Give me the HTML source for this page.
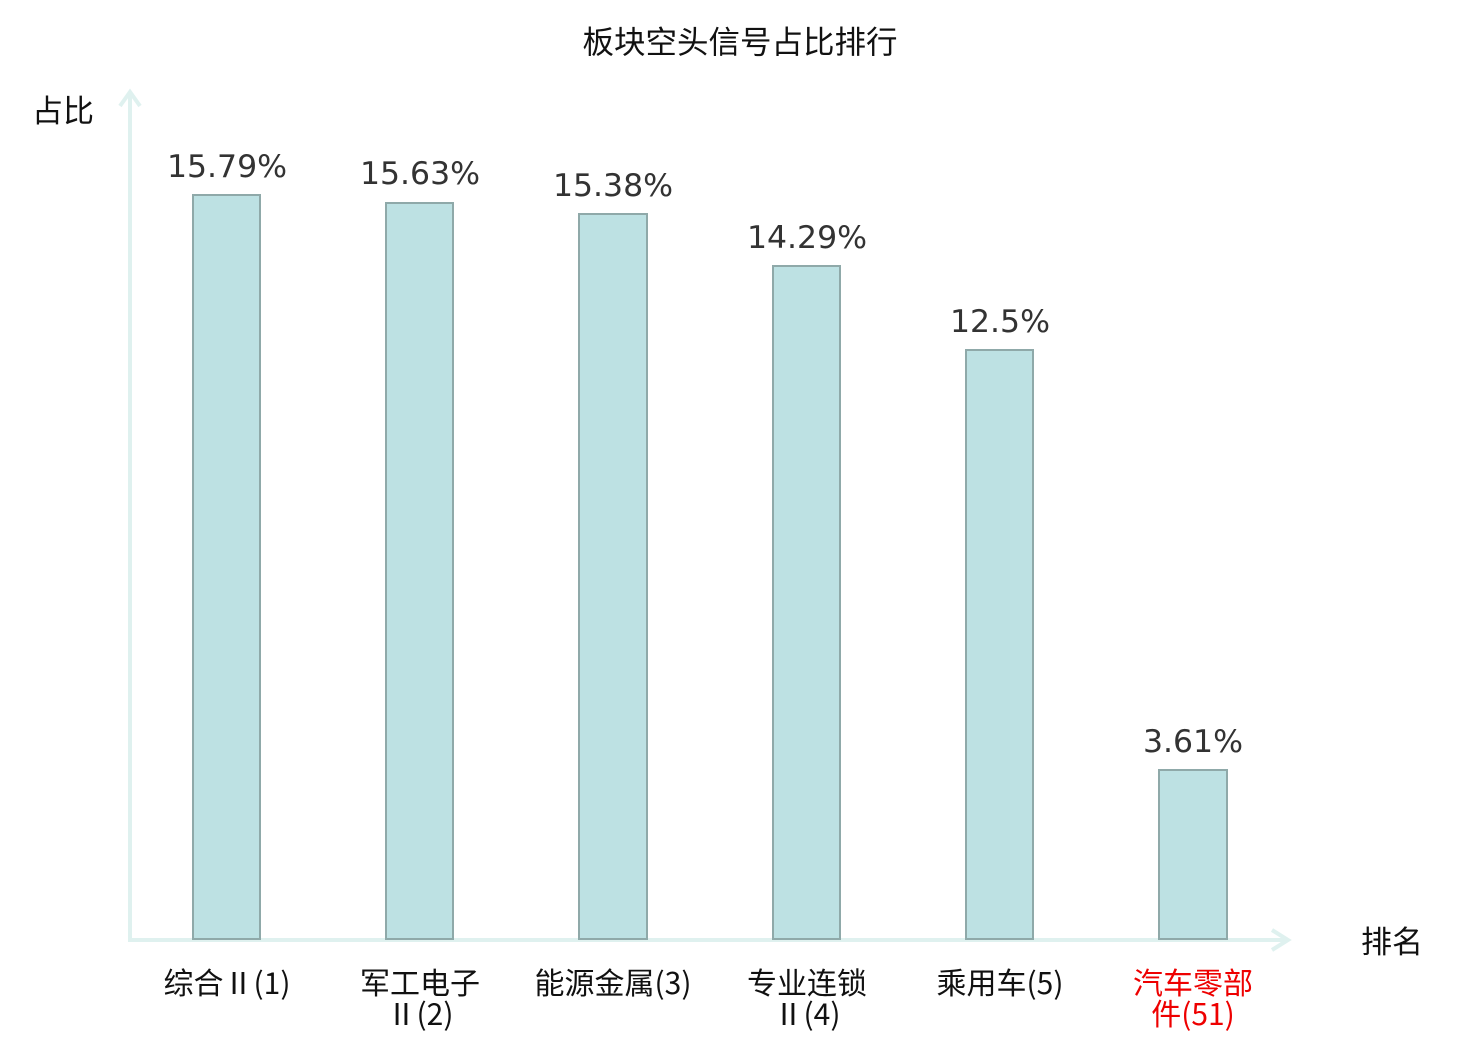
<!DOCTYPE html>
<html><head><meta charset="utf-8"><style>html,body{margin:0;padding:0;background:#fff}</style></head>
<body>
<svg width="1480" height="1040" xmlns="http://www.w3.org/2000/svg" font-family="'DejaVu Sans','Noto Sans CJK SC',sans-serif">
<text x="740" y="53" font-size="31.5" text-anchor="middle" fill="#111" font-family="'Noto Sans CJK SC',sans-serif">板块空头信号占比排行</text>
<text x="63" y="122" font-size="31" text-anchor="middle" fill="#111" font-family="'Noto Sans CJK SC',sans-serif">占比</text>
<text x="1392" y="953" font-size="31" text-anchor="middle" fill="#111" font-family="'Noto Sans CJK SC',sans-serif">排名</text>
<g stroke="#dff1ef" stroke-width="4" fill="none">
<line x1="130" y1="92" x2="130" y2="940"/>
<polyline points="120,106 130,92 140,106"/>
<line x1="128" y1="940" x2="1288" y2="940"/>
<polyline points="1272,930 1288,940 1272,950"/>
</g>
<g fill="#bde1e3" stroke="#8fa9a9" stroke-width="2">
<rect x="193" y="195" width="67" height="744"/>
<rect x="386" y="203" width="67" height="736"/>
<rect x="579" y="214" width="68" height="725"/>
<rect x="773" y="266" width="67" height="673"/>
<rect x="966" y="350" width="67" height="589"/>
<rect x="1159" y="770" width="68" height="169"/>
</g>
<g font-size="31.5" text-anchor="middle" fill="#333">
<text x="227" y="177">15.79%</text>
<text x="420" y="184">15.63%</text>
<text x="613" y="196">15.38%</text>
<text x="807" y="248">14.29%</text>
<text x="1000" y="332">12.5%</text>
<text x="1193" y="752">3.61%</text>
</g>
<g font-size="30" text-anchor="middle" fill="#111" font-family="'Noto Sans CJK SC',sans-serif">
<text x="227" y="994">综合Ⅱ(1)</text>
<text x="420" y="994">军工电子</text>
<text x="420" y="1025">Ⅱ(2)</text>
<text x="613" y="994">能源金属(3)</text>
<text x="807" y="994">专业连锁</text>
<text x="807" y="1025">Ⅱ(4)</text>
<text x="1000" y="994">乘用车(5)</text>
<text x="1193" y="994" fill="#e00">汽车零部</text>
<text x="1193" y="1025" fill="#e00">件(51)</text>
</g>
</svg>
</body></html>
